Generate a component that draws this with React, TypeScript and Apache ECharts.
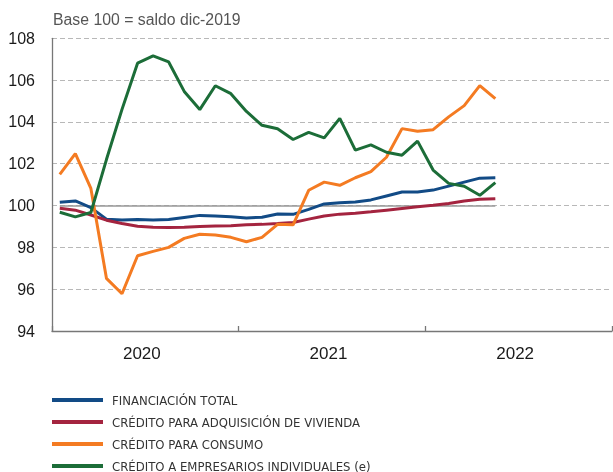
import React, { useEffect, useRef } from "react";
import * as echarts from "echarts";

const months = [
  "ene-20","feb-20","mar-20","abr-20","may-20","jun-20","jul-20","ago-20","sep-20","oct-20","nov-20","dic-20",
  "ene-21","feb-21","mar-21","abr-21","may-21","jun-21","jul-21","ago-21","sep-21","oct-21","nov-21","dic-21",
  "ene-22","feb-22","mar-22","abr-22","may-22","jun-22","jul-22","ago-22","sep-22","oct-22","nov-22","dic-22",
];
const years = ["2020", "2021", "2022"];

const financiacionTotal = [100.16, 100.22, 99.9, 99.35, 99.31, 99.33, 99.31, 99.33, 99.43, 99.53, 99.5, 99.47, 99.41, 99.44, 99.6, 99.58, 99.82, 100.08, 100.14, 100.17, 100.27, 100.46, 100.65, 100.65, 100.74, 100.93, 101.12, 101.31, 101.33];
const creditoVivienda = [99.87, 99.78, 99.55, 99.3, 99.14, 99.01, 98.96, 98.95, 98.96, 99.0, 99.02, 99.04, 99.08, 99.1, 99.14, 99.19, 99.35, 99.5, 99.59, 99.63, 99.7, 99.78, 99.86, 99.94, 100.01, 100.1, 100.22, 100.3, 100.33];
const creditoConsumo = [101.49, 102.48, 100.82, 96.52, 95.78, 97.6, 97.81, 98.0, 98.43, 98.63, 98.59, 98.48, 98.27, 98.48, 99.1, 99.08, 100.73, 101.12, 100.97, 101.33, 101.62, 102.31, 103.68, 103.55, 103.63, 104.24, 104.78, 105.74, 105.11];
const creditoEmpresarios = [99.68, 99.46, 99.67, 102.2, 104.6, 106.81, 107.16, 106.87, 105.46, 104.59, 105.73, 105.35, 104.5, 103.84, 103.67, 103.16, 103.5, 103.24, 104.17, 102.65, 102.9, 102.55, 102.41, 103.08, 101.7, 101.06, 100.92, 100.49, 101.1];

const seriesNames = [
  "FINANCIACIÓN TOTAL",
  "CRÉDITO PARA ADQUISICIÓN DE VIVIENDA",
  "CRÉDITO PARA CONSUMO",
  "CRÉDITO A EMPRESARIOS INDIVIDUALES (e)",
];
const seriesColors = ["#124b86", "#a4243f", "#f47b22", "#1c6d38"];
const seriesData = [financiacionTotal, creditoVivienda, creditoConsumo, creditoEmpresarios];

const FONT = '"Liberation Sans", Arial, sans-serif';
const NARROW = '"Liberation Sans Narrow", "DejaVu Sans Condensed", "Roboto Condensed", sans-serif';

export default function App() {
  const ref = useRef<HTMLDivElement>(null);
  useEffect(() => {
    if (!ref.current) return;
    const chart = echarts.init(ref.current, undefined, { renderer: "svg" });
    const lastIdx = financiacionTotal.length - 1;
    chart.setOption({
      animation: false,
      title: {
        text: "Base 100 = saldo dic-2019",
        left: 53,
        top: 11,
        padding: 0,
        textStyle: { fontFamily: FONT, fontSize: 15.8, fontWeight: "normal", color: "#555555" },
      },
      legend: {
        orient: "vertical",
        left: 52,
        top: 393,
        height: 120,
        padding: 0,
        itemGap: 8,
        itemWidth: 51,
        itemHeight: 4,
        icon: "rect",
        data: seriesNames,
        textStyle: {
          fontFamily: NARROW,
          fontSize: 13,
          color: "#333333",
          lineHeight: 14,
          padding: [0, 0, 0, 4],
        },
      },
      grid: { left: 52, right: 1, top: 38.3, bottom: 141, containLabel: false },
      xAxis: [
        {
          type: "category",
          data: months,
          boundaryGap: true,
          axisLine: { lineStyle: { color: "#777777", width: 1.3 } },
          axisTick: {
            show: true,
            inside: true,
            length: 5,
            interval: (i: number) => i % 12 === 0,
            lineStyle: { color: "#777777", width: 1.3 },
          },
          axisLabel: { show: false },
          splitLine: { show: false },
        },
        {
          type: "category",
          data: years,
          position: "bottom",
          boundaryGap: true,
          axisLine: { show: false },
          axisTick: { show: false },
          axisLabel: {
            fontFamily: FONT,
            fontSize: 17,
            color: "#1a1a1a",
            margin: 14,
            padding: [0, 7, 0, 0],
          },
          splitLine: { show: false },
        },
      ],
      yAxis: {
        type: "value",
        min: 94,
        max: 108,
        interval: 2,
        axisLine: { show: true, lineStyle: { color: "#777777", width: 1.3 } },
        axisTick: { show: false },
        axisLabel: { fontFamily: FONT, fontSize: 16, color: "#1a1a1a", margin: 17 },
        splitLine: { lineStyle: { color: "#b8b8b8", width: 1, type: [5, 3] } },
      },
      series: seriesNames.map((name, k) => ({
        name,
        type: "line",
        xAxisIndex: 0,
        data: seriesData[k],
        symbol: "none",
        color: seriesColors[k],
        lineStyle: { width: 3, color: seriesColors[k] },
        z: 3 + k,
        markLine:
          k === 0
            ? {
                silent: true,
                symbol: "none",
                label: { show: false },
                lineStyle: { color: "#999999", width: 1.5, type: "solid" },
                data: [[{ coord: [0, 100] }, { coord: [lastIdx, 100] }]],
                z: 1,
              }
            : undefined,
      })),
    });
    return () => chart.dispose();
  }, []);
  return (
    <div
      ref={ref}
      style={{ position: "fixed", left: 0, top: 0, width: 613, height: 472 }}
    />
  );
}
